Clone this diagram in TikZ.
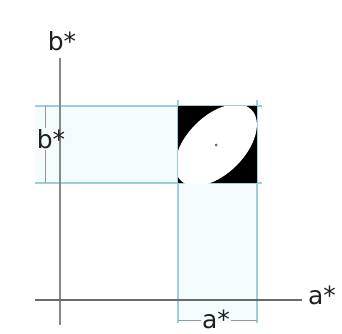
\documentclass[tikz,border=0pt]{standalone}
\usepackage{fontspec}
\setmainfont{DejaVu Sans}
\definecolor{guide}{HTML}{9CCFDD}
\definecolor{guidefill}{HTML}{F3FBFD}
\definecolor{axisgrey}{HTML}{6A6A6A}
\begin{document}
\begin{tikzpicture}[x=1pt,y=1pt,
  guideline/.style={draw=guide,line width=1.3pt},
  axisline/.style={draw=axisgrey,line width=2.2pt},
  dimline/.style={draw=axisgrey!70,line width=0.7pt},
  lbl/.style={font=\fontsize{25}{28}\selectfont,inner sep=1pt,text=black!88}]
\useasboundingbox (0,0) rectangle (342,333);
% light fills
\fill[guidefill] (178,10) rectangle (257,150);
\fill[guidefill] (35,150) rectangle (178,227);
% guide lines
\draw[guideline] (35,227) -- (262,227);
\draw[guideline] (35,150) -- (262,150);
\draw[guideline] (178,233) -- (178,10);
\draw[guideline] (257,233) -- (257,10);
% square with ellipse
\fill[black] (178,150) rectangle (257,227);
\begin{scope}
\clip (178,150) rectangle (257,227);
\fill[white,rotate around={45:(216,188)}] (216,188) ellipse [x radius=50, y radius=29];
\end{scope}
\fill[axisgrey] (216,188) circle (1.5);
% axes
\draw[axisline,draw=axisgrey!80] (60,275) -- (60,8);
\draw[axisline] (35,33) -- (302,33);
% labels
\node[lbl] (btop) at (62,292) {b*};
\node[lbl] (aright) at (322,38) {a*};
\node[lbl] (bdim) at (51,194) {b*};
\node[lbl] (adim) at (216,14) {a*};
% dimension marks
\coordinate (bt) at (45,227);
\coordinate (bb) at (45,150);
\coordinate (al) at (178,13);
\coordinate (ar) at (257,13);
\draw[dimline] (bt) -- (bt |- bdim.north);
\draw[dimline] (bb) -- (bb |- bdim.south);
\draw[dimline] (al) -- (al -| adim.west);
\draw[dimline] (ar) -- (ar -| adim.east);
\end{tikzpicture}
\end{document}
